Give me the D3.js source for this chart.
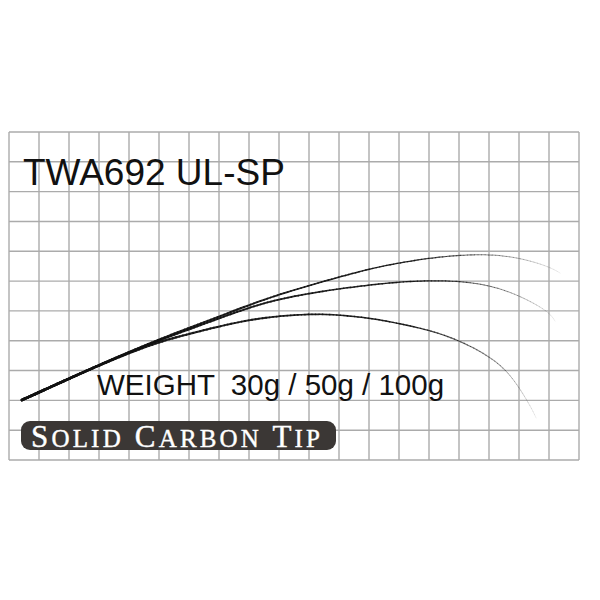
<!DOCTYPE html>
<html>
<head>
<meta charset="utf-8">
<script src="https://cdn.jsdelivr.net/npm/d3@7"></script>
<style>
  body { margin: 0; background: #fff; }
  svg { display: block; }
</style>
</head>
<body>
<div id="chart-area"></div>
<script>

var width = 600,
	height = 600;

// grid is 19 cells across, 11 cells down
var gridCols = d3.range(0, 20);
var gridRows = d3.range(0, 12);

var title = "TWA692 UL-SP";
var weights = ["30g", "50g", "100g"];
var badgeText = "Solid Carbon Tip";

// rod bend curves, in grid cells (x from left, y up from bottom)
var curve30x = [0.43, 2.70, 4.00, 5.00, 6.00, 7.00, 8.00, 9.00, 10.00, 10.70, 12.00, 13.00, 14.00, 15.00, 16.00, 17.00, 18.00, 18.37];
var curve30y = [2.01, 3.05, 3.62, 4.04, 4.43, 4.81, 5.20, 5.55, 5.85, 6.05, 6.41, 6.61, 6.77, 6.87, 6.90, 6.79, 6.49, 6.27];

var curve50x = [0.43, 2.70, 4.00, 5.00, 6.00, 7.00, 8.00, 9.00, 10.00, 10.70, 12.00, 13.00, 14.00, 15.00, 16.00, 17.00, 18.00, 18.20];
var curve50y = [2.01, 3.05, 3.61, 4.02, 4.38, 4.75, 5.11, 5.40, 5.58, 5.70, 5.87, 5.97, 6.02, 6.00, 5.87, 5.53, 4.98, 4.66];

var curve100x = [0.43, 2.70, 4.00, 5.00, 6.00, 7.00, 8.00, 9.00, 10.00, 10.70, 12.00, 13.00, 14.00, 15.00, 16.00, 16.70, 17.37, 17.57];
var curve100y = [2.01, 3.05, 3.59, 3.96, 4.23, 4.48, 4.70, 4.83, 4.89, 4.89, 4.77, 4.58, 4.36, 4.02, 3.49, 2.92, 1.84, 1.41];

var svg = d3.select("#chart-area").append("svg")
	.attr("width", width)
	.attr("height", height);

var xScale = d3.scaleLinear()
	.domain([0, 19])
	.range([9, 579]);

var yScale = d3.scaleLinear()
	.domain([0, 11])
	.range([460, 132]);

drawGrid();
drawCurves();
drawText();

function drawGrid() {
	var g = svg.append("g").attr("class", "grid");

	g.selectAll("line.v")
		.data(gridCols)
		.enter()
		.append("line")
		.attr("class", "v")
		.attr("x1", function(d) { return xScale(d); })
		.attr("x2", function(d) { return xScale(d); })
		.attr("y1", yScale(0))
		.attr("y2", yScale(11))
		.attr("stroke", "#ababab")
		.attr("stroke-width", 1.4);

	g.selectAll("line.h")
		.data(gridRows)
		.enter()
		.append("line")
		.attr("class", "h")
		.attr("x1", xScale(0))
		.attr("x2", xScale(19))
		.attr("y1", function(d) { return yScale(d); })
		.attr("y2", function(d) { return yScale(d); })
		.attr("stroke", "#ababab")
		.attr("stroke-width", 1.4);
}

function drawCurves() {
	var curves = [
		{xs: curve100x, ys: curve100y, fadeAt: 0.70},
		{xs: curve50x, ys: curve50y, fadeAt: 0.74},
		{xs: curve30x, ys: curve30y, fadeAt: 0.72}
	];

	var line = d3.line()
		.x(function(d) { return xScale(d[0]); })
		.y(function(d) { return yScale(d[1]); })
		.curve(d3.curveBasis);

	var g = svg.append("g").attr("class", "rods");

	curves.forEach(function(c) {
		var pts = c.xs.map(function(x, i) { return [x, c.ys[i]]; });

		// hidden guide path, sampled so the rod can taper and fade to the tip
		var guide = g.append("path")
			.attr("d", line(pts))
			.attr("fill", "none")
			.attr("stroke", "none");

		var node = guide.node();
		var len = node.getTotalLength();
		var steps = 160;

		for (var i = 0; i < steps; i++) {
			var t0 = i / steps,
				t1 = (i + 1) / steps;
			var p0 = node.getPointAtLength(t0 * len),
				p1 = node.getPointAtLength(t1 * len);

			var w = 2.7 - 1.9 * t0;
			var op = 0.92;
			if (t0 > c.fadeAt) {
				op = 0.92 - 0.85 * (t0 - c.fadeAt) / (1 - c.fadeAt);
			}

			g.append("line")
				.attr("x1", p0.x)
				.attr("y1", p0.y)
				.attr("x2", p1.x)
				.attr("y2", p1.y)
				.attr("stroke", "#111")
				.attr("stroke-opacity", op)
				.attr("stroke-width", w)
				.attr("stroke-linecap", "round");
		}
	});
}

function drawText() {
	svg.append("text")
		.attr("x", 23)
		.attr("y", 185)
		.attr("font-family", "'Liberation Sans', Arial, sans-serif")
		.attr("font-size", 37)
		.attr("fill", "#111")
		.text(title);

	svg.append("text")
		.attr("x", 97)
		.attr("y", 395)
		.attr("font-family", "'Liberation Sans', Arial, sans-serif")
		.attr("font-size", 29.5)
		.attr("fill", "#111")
		.style("white-space", "pre")
		.text("WEIGHT  " + weights.join(" / "));

	// dark badge
	svg.append("rect")
		.attr("x", 21)
		.attr("y", 421)
		.attr("width", 315)
		.attr("height", 29)
		.attr("rx", 9)
		.attr("fill", "#3b3735");

	var badge = svg.append("text")
		.attr("x", 31)
		.attr("y", 446.5)
		.attr("font-family", "'Liberation Serif', 'DejaVu Serif', serif")
		.attr("fill", "#fff")
		.attr("stroke", "#fff")
		.attr("stroke-width", 0.4)
		.attr("textLength", 289)
		.attr("lengthAdjust", "spacing");

	// small caps by hand: first letter of each word large, rest smaller
	badgeText.split(" ").forEach(function(word, i) {
		badge.append("tspan")
			.attr("font-size", 31)
			.text((i > 0 ? " " : "") + word.charAt(0).toUpperCase());
		badge.append("tspan")
			.attr("font-size", 25)
			.text(word.slice(1).toUpperCase());
	});
}

</script>
</body>
</html>
